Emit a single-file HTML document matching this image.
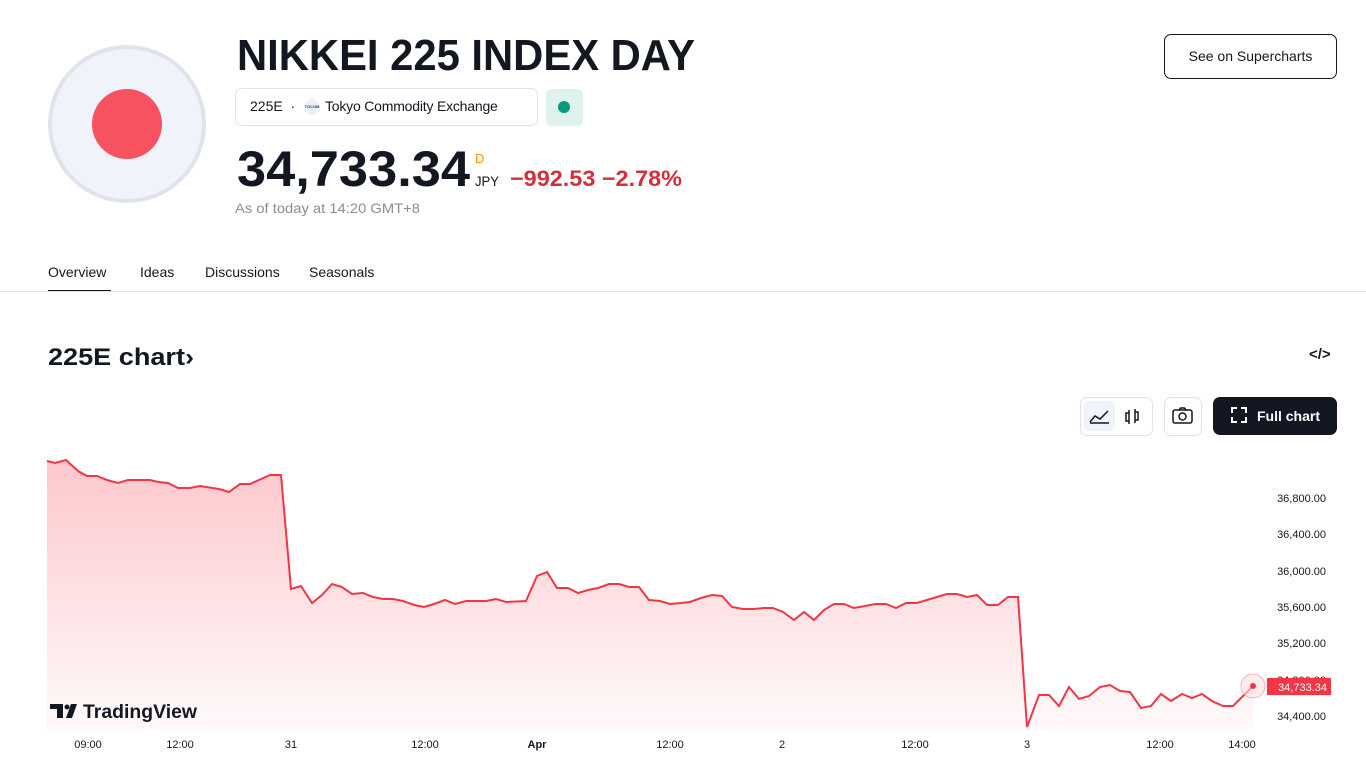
<!DOCTYPE html>
<html><head><meta charset="utf-8"><style>
body{margin:0;width:1366px;height:768px;overflow:hidden;background:#fff;font-family:"Liberation Sans",sans-serif;color:#131722;position:relative}
.a{position:absolute;white-space:nowrap}
</style></head><body>
<div class="a" style="left:48px;top:45px;width:150px;height:150px;border-radius:50%;background:#f0f3fa;border:4px solid #e0e3eb"></div>
<div class="a" style="left:92px;top:89px;width:70px;height:70px;border-radius:50%;background:#f7525f"></div>
<svg class="a" style="left:0;top:0" width="1366" height="768">
<text x="237" y="70" font-size="44" font-weight="bold" textLength="458" lengthAdjust="spacingAndGlyphs" fill="#131722">NIKKEI 225 INDEX DAY</text>
<text x="237" y="186" font-size="50" font-weight="bold" textLength="233" lengthAdjust="spacingAndGlyphs" fill="#131722">34,733.34</text>
<text x="475" y="163" font-size="13" fill="#ff9800">D</text>
<text x="475" y="186" font-size="14" fill="#131722" textLength="24" lengthAdjust="spacingAndGlyphs">JPY</text>
<text x="510" y="186" font-size="22" font-weight="bold" fill="#d32f3a" textLength="172" lengthAdjust="spacingAndGlyphs">−992.53 −2.78%</text>
<text x="235" y="213" font-size="14" fill="#8a8e99" textLength="185" lengthAdjust="spacingAndGlyphs">As of today at 14:20 GMT+8</text>
<text x="48" y="365" font-size="24" font-weight="bold" fill="#131722" textLength="146" lengthAdjust="spacingAndGlyphs">225E chart›</text>
</svg>
<div class="a" style="left:235px;top:88px;width:301px;height:36px;border:1px solid #e0e3eb;border-radius:7px"></div>
<div class="a" style="left:250px;top:98px;font-size:14px">225E &nbsp;·</div>
<div class="a" style="left:304px;top:99px;width:16px;height:16px;border-radius:50%;background:#eef0f6;font-size:4px;color:#1c3b8f;text-align:center;line-height:16px;font-weight:bold">TOCOM</div>
<div class="a" style="left:325px;top:98px;font-size:14px;letter-spacing:-0.2px">Tokyo Commodity Exchange</div>
<div class="a" style="left:546px;top:89px;width:37px;height:37px;border-radius:6px;background:#dff2ee"></div>
<div class="a" style="left:558px;top:101px;width:12px;height:12px;border-radius:50%;background:#089981"></div>
<div class="a" style="left:1164px;top:34px;width:171px;height:43px;border:1px solid #131722;border-radius:7px;font-size:14px;line-height:43px;text-align:center">See on Supercharts</div>
<div class="a" style="left:48px;top:264px;font-size:14px">Overview</div>
<div class="a" style="left:48px;top:290px;width:63px;height:2px;background:#131722"></div>
<div class="a" style="left:140px;top:264px;font-size:14px">Ideas</div>
<div class="a" style="left:205px;top:264px;font-size:14px">Discussions</div>
<div class="a" style="left:309px;top:264px;font-size:14px">Seasonals</div>
<div class="a" style="left:0;top:291px;width:1366px;height:1px;background:#e0e3eb"></div>
<div class="a" style="left:1309px;top:346px;font-size:15px;font-weight:bold">&lt;/&gt;</div>
<div class="a" style="left:1080px;top:397px;width:71px;height:37px;border:1px solid #e0e3eb;border-radius:7px"></div>
<div class="a" style="left:1084px;top:401px;width:31px;height:30px;border-radius:5px;background:#f0f3fa"></div>
<svg class="a" style="left:1088px;top:406px" width="90" height="20"><path d="M2 16 L7 10 L12 13 L20 5 M2 17 H21" stroke="#131722" fill="none" stroke-width="1.5"/><path d="M41 4v14M41 7h-3v8h3M47 3v14M47 6h3v8h-3" stroke="#131722" fill="none" stroke-width="1.5"/></svg>
<div class="a" style="left:1164px;top:397px;width:36px;height:37px;border:1px solid #e0e3eb;border-radius:7px"></div>
<svg class="a" style="left:1172px;top:406px" width="22" height="20"><rect x="1" y="4" width="19" height="13" rx="2" stroke="#131722" fill="none" stroke-width="1.5"/><circle cx="10.5" cy="10.5" r="3.5" stroke="#131722" fill="none" stroke-width="1.5"/><path d="M7 4l1.5-2h4L14 4" stroke="#131722" fill="none" stroke-width="1.5"/></svg>
<div class="a" style="left:1213px;top:397px;width:124px;height:38px;border-radius:7px;background:#131722;color:#fff;font-size:14px;font-weight:bold;line-height:38px"><span style="position:absolute;left:18px;top:10px;width:16px;height:16px;line-height:16px;border:2px dashed #fff;box-sizing:border-box"></span><span style="position:absolute;left:44px">Full chart</span></div>
<svg class="a" style="left:0;top:0" width="1366" height="768">
<defs><linearGradient id="g" x1="0" y1="0" x2="0" y2="1"><stop offset="0" stop-color="#f7525f" stop-opacity="0.32"/><stop offset="1" stop-color="#f7525f" stop-opacity="0.03"/></linearGradient></defs>
<path id="p" d="M47,461 L55,463 L66,460 L78,471 L87,476 L97,476 L107,480 L118,483 L128,480 L150,480 L158,482 L168,483 L178,488 L190,488 L200,486 L219,489 L229,492 L240,484 L250,484 L270,475 L281,475 L291,589 L301,586 L312,603 L322,595 L332,584 L342,587 L352,594 L363,593 L373,597 L383,599 L393,599 L403,601 L414,605 L424,607 L434,604 L445,600 L455,604 L466,601 L486,601 L496,599 L506,602 L526,601 L537,576 L547,572 L557,588 L568,588 L578,593 L588,590 L598,588 L609,584 L619,584 L629,587 L639,587 L649,600 L660,601 L670,604 L681,603 L690,602 L701,598 L712,595 L722,596 L732,607 L743,609 L753,609 L764,608 L773,608 L783,612 L794,620 L804,612 L814,620 L824,610 L834,604 L844,604 L854,608 L865,606 L875,604 L886,604 L896,608 L906,603 L917,603 L927,600 L937,597 L947,594 L957,594 L967,597 L977,595 L987,605 L998,605 L1008,597 L1018,597 L1027,727 L1039,695 L1049,695 L1059,706 L1069,687 L1079,699 L1089,696 L1100,687 L1110,685 L1120,691 L1130,692 L1141,708 L1151,706 L1161,694 L1171,701 L1182,694 L1192,698 L1202,694 L1212,701 L1223,706 L1233,706 L1243,696 L1253,686" fill="none"/>
<path d="M47,461 L55,463 L66,460 L78,471 L87,476 L97,476 L107,480 L118,483 L128,480 L150,480 L158,482 L168,483 L178,488 L190,488 L200,486 L219,489 L229,492 L240,484 L250,484 L270,475 L281,475 L291,589 L301,586 L312,603 L322,595 L332,584 L342,587 L352,594 L363,593 L373,597 L383,599 L393,599 L403,601 L414,605 L424,607 L434,604 L445,600 L455,604 L466,601 L486,601 L496,599 L506,602 L526,601 L537,576 L547,572 L557,588 L568,588 L578,593 L588,590 L598,588 L609,584 L619,584 L629,587 L639,587 L649,600 L660,601 L670,604 L681,603 L690,602 L701,598 L712,595 L722,596 L732,607 L743,609 L753,609 L764,608 L773,608 L783,612 L794,620 L804,612 L814,620 L824,610 L834,604 L844,604 L854,608 L865,606 L875,604 L886,604 L896,608 L906,603 L917,603 L927,600 L937,597 L947,594 L957,594 L967,597 L977,595 L987,605 L998,605 L1008,597 L1018,597 L1027,727 L1039,695 L1049,695 L1059,706 L1069,687 L1079,699 L1089,696 L1100,687 L1110,685 L1120,691 L1130,692 L1141,708 L1151,706 L1161,694 L1171,701 L1182,694 L1192,698 L1202,694 L1212,701 L1223,706 L1233,706 L1243,696 L1253,686 L1253,730 L47,730 Z" fill="url(#g)"/>
<use href="#p" stroke="#f23645" stroke-width="2"/>
<circle cx="1253" cy="686" r="12" fill="#fde0e3" fill-opacity="0.6" stroke="#f7a1a8" stroke-width="0.8"/>
<circle cx="1253" cy="686" r="3" fill="#f23645"/>
<g font-size="11" fill="#131722" text-anchor="end">
<text x="1326" y="502">36,800.00</text><text x="1326" y="538">36,400.00</text><text x="1326" y="575">36,000.00</text><text x="1326" y="611">35,600.00</text><text x="1326" y="647">35,200.00</text><text x="1326" y="684">34,800.00</text><text x="1326" y="720">34,400.00</text>
</g>
<rect x="1267" y="678" width="64" height="17" fill="#f23645"/>
<text x="1327" y="691" font-size="11" fill="#fff" text-anchor="end">34,733.34</text>
<g font-size="11" fill="#131722" text-anchor="middle">
<text x="88" y="748">09:00</text><text x="180" y="748">12:00</text><text x="291" y="748">31</text><text x="425" y="748">12:00</text><text x="537" y="748" font-weight="bold">Apr</text><text x="670" y="748">12:00</text><text x="782" y="748">2</text><text x="915" y="748">12:00</text><text x="1027" y="748">3</text><text x="1160" y="748">12:00</text><text x="1242" y="748">14:00</text>
</g>
<path d="M50 704h13v14h-6v-9h-7z" fill="#131722"/><circle cx="67" cy="707" r="2.5" fill="#131722"/><path d="M66 718l5-14h6l-5 14z" fill="#131722"/>
<text x="83" y="718" font-size="19" font-weight="bold" fill="#131722" textLength="114" lengthAdjust="spacingAndGlyphs">TradingView</text>
</svg>
</body></html>
